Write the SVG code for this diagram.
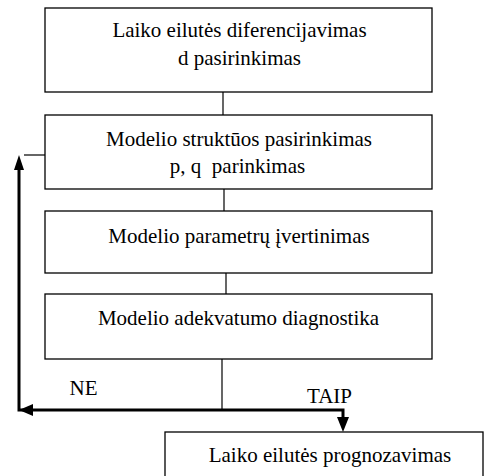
<svg xmlns="http://www.w3.org/2000/svg" width="484" height="476" viewBox="0 0 484 476">
<defs>
<style>
.box{fill:#fff;stroke:#000;stroke-width:1.3}
.t{font-family:"Liberation Serif","Times New Roman",serif;font-size:21px;fill:#000;text-anchor:middle}
.thin{stroke:#000;stroke-width:1.2;fill:none}
.thick{stroke:#000;stroke-width:3;fill:none}
.ah{fill:#000}
</style>
</defs>
<g id="connectors">
<line class="thin" x1="223" y1="92" x2="223" y2="115"/>
<line class="thin" x1="224" y1="189" x2="224" y2="211" stroke="#777"/>
<line class="thin" x1="226" y1="273" x2="226" y2="294"/>
<line class="thin" x1="222" y1="359" x2="222" y2="410"/>
<polyline class="thick" points="30,410 19,410 19,168"/>
<polygon class="ah" points="19,155 14,170 24,170"/>
<polygon class="ah" points="19,410 33,404 33,416"/>
<line class="thin" x1="24" y1="155" x2="45" y2="155"/>
<polyline class="thick" points="30,410 343,410 343,420"/>
<polygon class="ah" points="343,432 337,417 349,417"/>
<text class="t" x="83.5" y="395">NE</text>
<text class="t" x="329.5" y="403">TAIP</text>
</g>
<g id="n1">
<rect class="box" x="45" y="8" width="387" height="84"/>
<text class="t" x="239.5" y="37">Laiko eilutės diferencijavimas</text>
<text class="t" x="239.5" y="65">d pasirinkimas</text>
</g>
<g id="n2">
<rect class="box" x="45" y="115" width="387" height="74"/>
<text class="t" x="239" y="146">Modelio struktūos pasirinkimas</text>
<text class="t" x="237.5" y="173" xml:space="preserve">p, q  parinkimas</text>
</g>
<g id="n3">
<rect class="box" x="45" y="211" width="387" height="62"/>
<text class="t" x="239" y="243">Modelio parametrų įvertinimas</text>
</g>
<g id="n4">
<rect class="box" x="45" y="294" width="387" height="65"/>
<text class="t" x="238.5" y="325">Modelio adekvatumo diagnostika</text>
</g>
<g id="n5">
<rect class="box" x="165" y="432" width="318" height="60"/>
<text class="t" x="330" y="462">Laiko eilutės prognozavimas</text>
</g>
</svg>
